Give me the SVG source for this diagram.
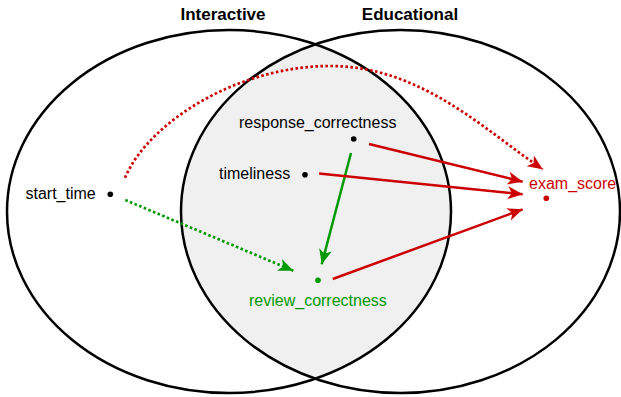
<svg xmlns="http://www.w3.org/2000/svg" width="621" height="397" viewBox="0 0 621 397">
  <style>
    .set { fill: none; stroke: #000; stroke-width: 2.5; }
    .title { font-family: "Liberation Sans", Arial, sans-serif; font-size: 17px; font-weight: bold; fill: #000; text-anchor: middle; }
    .lbl { font-family: "Liberation Sans", Arial, sans-serif; font-size: 16px; fill: #000; }
    .red { stroke: #cc0000; fill: none; stroke-width: 2.5; }
    .green { stroke: #009900; fill: none; stroke-width: 2.5; }
    .dot { stroke-dasharray: 2.6 2.4; stroke-width: 2.7; }
  </style>
  <defs>
    <clipPath id="clipLeft">
      <ellipse cx="229" cy="211.5" rx="222" ry="181.5"/>
    </clipPath>
    <marker id="arrRed" markerUnits="userSpaceOnUse" viewBox="-15 -8 16 16" refX="0" refY="0" markerWidth="16" markerHeight="16" orient="auto">
      <path d="M0,0 L-15,-6.5 L-11,0 L-15,6.5 Z" fill="#cc0000"/>
    </marker>
    <marker id="arrGreen" markerUnits="userSpaceOnUse" viewBox="-15 -8 16 16" refX="0" refY="0" markerWidth="16" markerHeight="16" orient="auto">
      <path d="M0,0 L-15,-6.5 L-11,0 L-15,6.5 Z" fill="#009900"/>
    </marker>
  </defs>

  <g id="sets">
    <ellipse cx="400.5" cy="211.5" rx="219.5" ry="181.5" fill="#f0f0f0" clip-path="url(#clipLeft)"/>
    <ellipse class="set" cx="229" cy="211.5" rx="222" ry="181.5"/>
    <ellipse class="set" cx="400.5" cy="211.5" rx="219.5" ry="181.5"/>
    <text class="title" x="223" y="20">Interactive</text>
    <text class="title" x="410" y="20">Educational</text>
  </g>

  <g id="connectors">
    <path class="red dot" d="M125,177.7 C150,120 240,66 330,66 C420,66 482,128 542.7,169.3" marker-end="url(#arrRed)"/>
    <path class="green dot" d="M125.3,200 L293.3,270.7" marker-end="url(#arrGreen)"/>
    <path class="green" d="M351,153 L321.7,264.3" marker-end="url(#arrGreen)"/>
    <path class="red" d="M369,144 L522.7,181.7" marker-end="url(#arrRed)"/>
    <path class="red" d="M319,173.5 L522.7,194.3" marker-end="url(#arrRed)"/>
    <path class="red" d="M332.7,279 L522.7,209.3" marker-end="url(#arrRed)"/>
  </g>

  <g id="start_time">
    <circle cx="110.3" cy="194.3" r="2.8" fill="#000"/>
    <text class="lbl" x="25.5" y="199">start_time</text>
  </g>
  <g id="response_correctness">
    <circle cx="353.7" cy="139" r="2.8" fill="#000"/>
    <text class="lbl" x="239" y="128.3">response_correctness</text>
  </g>
  <g id="timeliness">
    <circle cx="305" cy="174.7" r="2.8" fill="#000"/>
    <text class="lbl" x="219" y="178.5">timeliness</text>
  </g>
  <g id="review_correctness">
    <circle cx="318" cy="280.3" r="2.8" fill="#009900"/>
    <text class="lbl" x="249" y="306" style="fill:#009900">review_correctness</text>
  </g>
  <g id="exam_score">
    <circle cx="546.3" cy="198.3" r="2.8" fill="#cc0000"/>
    <text class="lbl" x="529" y="189.3" style="fill:#cc0000">exam_score</text>
  </g>
</svg>
